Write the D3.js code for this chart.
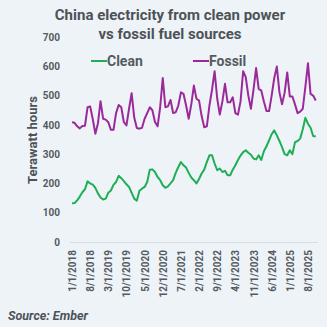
<!DOCTYPE html>
<html>
<head>
<meta charset="utf-8">
<script src="https://cdn.jsdelivr.net/npm/d3@7"></script>
<style>
  html, body { margin: 0; padding: 0; background: #eef3f8; }
  svg { display: block; }
</style>
</head>
<body>
<svg id="chart" width="327" height="327"></svg>
<script>
// Monthly generation, TWh, Jan 2018 – Nov 2025
const months = d3.range(95).map(i => new Date(2018, i, 1));
const clean = [
  132, 133, 142, 155, 170, 180, 207, 200, 196, 185, 166, 152,
  145, 148, 168, 176, 195, 205, 226, 218, 208, 197, 188, 168,
  148, 141, 175, 182, 188, 205, 247, 248, 239, 222, 211, 194,
  185, 190, 200, 211, 236, 256, 273, 262, 254, 236, 220, 211,
  200, 215, 234, 247, 273, 296, 296, 268, 245, 251, 239, 243,
  228, 228, 247, 262, 280, 295, 307, 313, 305, 298, 285, 282,
  296, 280, 310, 327, 347, 368, 381, 364, 345, 324, 300, 296,
  313, 300, 341, 345, 353, 385, 424, 404, 390, 362, 360
];
const fossil = [
  409, 407, 395, 388, 396, 397, 460, 463, 420, 370, 405, 481,
  421, 418, 409, 383, 383, 440, 468, 460, 409, 398, 455, 508,
  425, 389, 387, 390, 421, 440, 460, 450, 410, 395, 460, 560,
  460, 463, 485, 440, 443, 466, 511, 506, 466, 421, 470, 534,
  489, 483, 430, 392, 395, 466, 520, 583, 490, 435, 480, 540,
  477, 477, 494, 440, 435, 480, 583, 563, 500, 455, 520, 594,
  523, 517, 480, 447, 447, 500, 560, 599, 511, 470, 510, 579,
  497, 497, 470, 440, 445, 455, 530, 610, 506, 500, 483
];
const yTicks = [0, 100, 200, 300, 400, 500, 600, 700];
const seriesNames = ["Clean", "Fossil"];
const seriesColors = ["#1fae55", "#9a2a9a"];

const svg = d3.select("#chart");
const textColor = "#555b61";
const font = "Roboto, 'Open Sans', sans-serif";

const x = d3.scaleLinear().domain([0, months.length - 1]).range([72, 72 + 2.593 * (months.length - 1)]);
const y = d3.scaleLinear().domain([0, 700]).range([242, 37]);

// Title
svg.append("text")
  .attr("x", 170).attr("y", 20)
  .attr("text-anchor", "middle")
  .style("font-family", font).style("font-weight", 700).style("font-size", "15px")
  .attr("fill", "#4d5257")
  .selectAll("tspan")
  .data(["China electricity from clean power", "vs fossil fuel sources"])
  .join("tspan")
  .attr("x", 170).attr("dy", (d, i) => i ? 19 : 0)
  .text(d => d);

// Y axis labels
const yAxis = d3.axisLeft(y).tickValues(yTicks).tickSize(0).tickPadding(0);
const gy = svg.append("g").attr("transform", "translate(60,0)").call(yAxis);
gy.select(".domain").remove();
gy.selectAll("text")
  .style("font-family", font).style("font-weight", 700).style("font-size", "10px")
  .attr("fill", textColor);

svg.append("text")
  .attr("transform", "translate(37,140) rotate(-90)")
  .attr("text-anchor", "middle")
  .style("font-family", font).style("font-weight", 700).style("font-size", "13px")
  .attr("fill", "#4d5257")
  .text("Terawatt hours");

// X axis baseline and rotated date labels every 7 months
const fmt = d => `${d.getMonth() + 1}/1/${d.getFullYear()}`;
const xTicks = d3.range(0, months.length, 7);
const xAxis = d3.axisBottom(x).tickValues(xTicks).tickSize(0).tickPadding(0)
  .tickFormat(i => fmt(months[i]));
const gx = svg.append("g").attr("transform", `translate(0,${y(0)})`).call(xAxis);
gx.select(".domain").attr("stroke", "#d9dde1").attr("stroke-width", 1)
  .attr("d", `M${x(0) - 2},0.5H${x(months.length - 1) + 2}`);
gx.selectAll("text")
  .attr("transform", "translate(0,8) rotate(-90)")
  .attr("dy", "0.35em").attr("x", 0).attr("y", 0)
  .attr("text-anchor", "end")
  .style("font-family", font).style("font-weight", 700).style("font-size", "10px")
  .attr("fill", textColor);

// Lines
const line = d3.line().x((d, i) => x(i)).y(d => y(d));
[clean, fossil].forEach((s, k) => {
  svg.append("path")
    .datum(s)
    .attr("fill", "none")
    .attr("stroke", seriesColors[k])
    .attr("stroke-width", 2)
    .attr("stroke-linejoin", "round")
    .attr("d", line);
});

// Legend
const legendX = [91, 193];
seriesNames.forEach((name, k) => {
  const g = svg.append("g").attr("transform", `translate(${legendX[k]},61)`);
  g.append("line").attr("x1", 0).attr("x2", 16).attr("y1", 0).attr("y2", 0)
    .attr("stroke", seriesColors[k]).attr("stroke-width", 2);
  g.append("text").attr("x", 16).attr("y", 0).attr("dy", "0.35em")
    .style("font-family", font).style("font-weight", 700).style("font-size", "14px")
    .attr("fill", textColor).text(name);
});

// Source note
svg.append("text")
  .attr("x", 8).attr("y", 320)
  .style("font-family", font).style("font-weight", 700).style("font-style", "italic")
  .style("font-size", "12.5px")
  .attr("fill", "#4d5257")
  .text("Source: Ember");
</script>
</body>
</html>
